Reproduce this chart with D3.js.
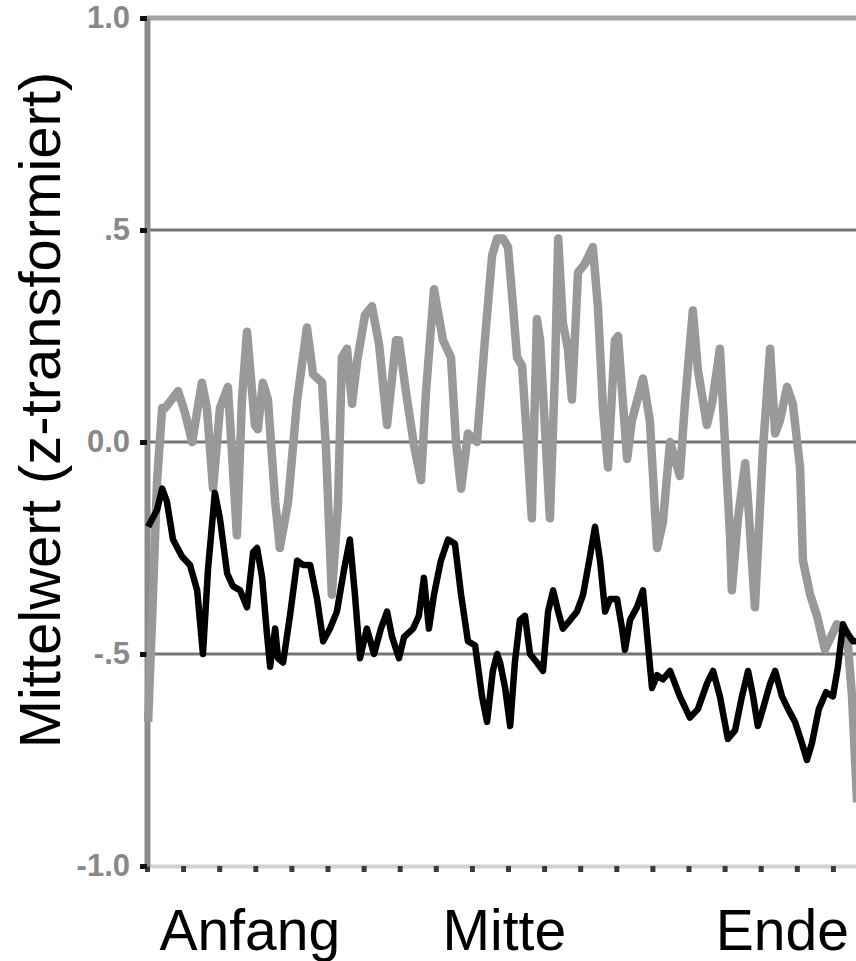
<!DOCTYPE html>
<html>
<head>
<meta charset="utf-8">
<script src="https://cdn.jsdelivr.net/npm/d3@7"></script>
<style>
  html, body { margin: 0; padding: 0; background: #fff; }
  svg { display: block; }
</style>
</head>
<body>
<script>
// set dimensions
var width = 856;
var height = 961;

// data (x in tick units along the excerpt, y = z-transformed mean)
var grayX = [0.03, 0.14, 0.28, 0.42, 0.50, 0.86, 1.05, 1.25, 1.52, 1.66, 1.83, 2.02, 2.24, 2.35, 2.49, 2.63, 2.77, 2.99, 3.07, 3.21,
    3.35, 3.55, 3.68, 3.91, 4.16, 4.43, 4.60, 4.85, 4.96, 5.12, 5.29, 5.40, 5.54, 5.68, 5.82, 6.04, 6.23, 6.43, 6.65, 6.90,
    6.98, 7.17, 7.40, 7.59, 7.73, 7.95, 8.20, 8.42, 8.56, 8.70, 8.89, 9.14, 9.36, 9.56, 9.70, 9.86, 10.00, 10.14, 10.25, 10.39,
    10.53, 10.66, 10.80, 10.89, 11.02, 11.16, 11.30, 11.39, 11.52, 11.66, 11.77, 11.94, 12.13, 12.35, 12.49, 12.63, 12.77, 12.96, 13.05, 13.16,
    13.30, 13.43, 13.74, 13.93, 14.13, 14.29, 14.49, 14.76, 14.90, 15.12, 15.26, 15.51, 15.65, 15.87, 16.01, 16.15, 16.20, 16.37, 16.57, 16.65,
    16.84, 17.06, 17.26, 17.40, 17.53, 17.73, 17.89, 18.09, 18.17, 18.37, 18.56, 18.78, 19.11, 19.39, 19.53, 19.67];
var grayY = [-0.66, -0.42, -0.09, 0.08, 0.08, 0.12, 0.07, 0.00, 0.14, 0.08, -0.11, 0.08, 0.13, -0.02, -0.22, 0.10, 0.26, 0.04, 0.03, 0.14,
    0.10, -0.14, -0.25, -0.14, 0.10, 0.27, 0.16, 0.14, -0.02, -0.36, -0.15, 0.20, 0.22, 0.09, 0.19, 0.30, 0.32, 0.23, 0.04, 0.24,
    0.24, 0.12, -0.01, -0.09, 0.12, 0.36, 0.24, 0.20, 0.00, -0.11, 0.02, 0.00, 0.24, 0.44, 0.48, 0.48, 0.46, 0.32, 0.20, 0.18,
    0.00, -0.18, 0.29, 0.24, 0.04, -0.18, 0.16, 0.48, 0.28, 0.22, 0.10, 0.40, 0.42, 0.46, 0.32, 0.08, -0.06, 0.24, 0.25, 0.12,
    -0.04, 0.05, 0.15, 0.05, -0.25, -0.19, 0.00, -0.08, 0.09, 0.31, 0.17, 0.04, 0.09, 0.22, 0.00, -0.22, -0.35, -0.18, -0.05, -0.14,
    -0.39, -0.02, 0.22, 0.02, 0.05, 0.13, 0.09, -0.06, -0.28, -0.36, -0.41, -0.49, -0.43, -0.45, -0.60, -0.85];

var blackX = [0.03, 0.28, 0.42, 0.55, 0.72, 0.97, 1.19, 1.39, 1.55, 1.69, 1.88, 2.02, 2.22, 2.38, 2.58, 2.77, 2.94, 3.05, 3.19, 3.32,
    3.41, 3.55, 3.63, 3.77, 3.96, 4.16, 4.32, 4.52, 4.71, 4.88, 5.07, 5.26, 5.46, 5.62, 5.76, 5.90, 6.09, 6.29, 6.48, 6.65,
    6.79, 6.98, 7.12, 7.37, 7.53, 7.67, 7.81, 7.95, 8.14, 8.34, 8.53, 8.70, 8.89, 9.09, 9.28, 9.42, 9.58, 9.70, 9.78, 9.92,
    10.06, 10.19, 10.33, 10.47, 10.61, 10.80, 10.97, 11.11, 11.25, 11.39, 11.52, 11.72, 11.91, 12.08, 12.27, 12.41, 12.55, 12.69, 12.83, 13.02,
    13.16, 13.24, 13.38, 13.57, 13.74, 13.88, 13.99, 14.13, 14.29, 14.49, 14.76, 15.04, 15.26, 15.51, 15.68, 15.87, 16.09, 16.29, 16.48, 16.65,
    16.79, 16.92, 17.06, 17.26, 17.40, 17.59, 17.76, 17.95, 18.14, 18.28, 18.42, 18.61, 18.81, 19.00, 19.14, 19.28, 19.39, 19.56, 19.67];
var blackY = [-0.20, -0.16, -0.11, -0.14, -0.23, -0.27, -0.29, -0.35, -0.50, -0.30, -0.12, -0.18, -0.31, -0.34, -0.35, -0.39, -0.26, -0.25, -0.32, -0.45,
    -0.53, -0.44, -0.51, -0.52, -0.41, -0.28, -0.29, -0.29, -0.37, -0.47, -0.44, -0.40, -0.30, -0.23, -0.36, -0.51, -0.44, -0.50, -0.44, -0.40,
    -0.46, -0.51, -0.46, -0.44, -0.41, -0.32, -0.44, -0.36, -0.28, -0.23, -0.24, -0.36, -0.47, -0.48, -0.60, -0.66, -0.54, -0.50, -0.52, -0.58,
    -0.67, -0.52, -0.42, -0.41, -0.50, -0.52, -0.54, -0.40, -0.35, -0.40, -0.44, -0.42, -0.40, -0.36, -0.27, -0.20, -0.28, -0.40, -0.37, -0.37,
    -0.44, -0.49, -0.42, -0.39, -0.35, -0.48, -0.58, -0.55, -0.56, -0.54, -0.60, -0.65, -0.63, -0.57, -0.54, -0.60, -0.70, -0.68, -0.60, -0.54,
    -0.60, -0.67, -0.63, -0.57, -0.54, -0.60, -0.63, -0.66, -0.71, -0.75, -0.71, -0.63, -0.59, -0.60, -0.53, -0.43, -0.45, -0.47, -0.47];

// tick labels
var yTicks = [1, 0.5, 0, -0.5, -1];
var yTickLabels = ["1.0", ".5", "0.0", "-.5", "-1.0"];
var gridValues = [0.5, 0, -0.5];
var xTicks = d3.range(0, 21);

// phase labels under the x axis
var phases = ["Anfang", "Mitte", "Ende"];
var phasePos = [2.85, 9.9, 17.6];

var yTitle = "Mittelwert (z-transformiert)";

// create SVG
var svg = d3.select("body")
    .append("svg")
    .attr("width", width)
    .attr("height", height);

// scales
var xScale = d3.scaleLinear()
    .domain([0, 20])
    .range([147, 869]);

var yScale = d3.scaleLinear()
    .domain([-1, 1])
    .range([866, 18]);

// top line at 1.0 (lighter)
svg.append("line")
    .attr("x1", 147)
    .attr("x2", width)
    .attr("y1", yScale(1))
    .attr("y2", yScale(1))
    .attr("stroke", "#a3a3a3")
    .attr("stroke-width", 5);

// grid lines
svg.selectAll(".grid")
    .data(gridValues)
    .enter()
    .append("line")
    .attr("class", "grid")
    .attr("x1", 147)
    .attr("x2", width)
    .attr("y1", d => yScale(d))
    .attr("y2", d => yScale(d))
    .attr("stroke", "#767676")
    .attr("stroke-width", 3);

// x axis: light line with square ticks
var xAxis = d3.axisBottom(xScale)
    .tickValues(xTicks)
    .tickSize(6)
    .tickSizeOuter(0)
    .tickFormat("");

var gx = svg.append("g")
    .attr("transform", `translate(0, ${yScale(-1)})`)
    .call(xAxis);

gx.select(".domain")
    .attr("stroke", "#d2d2d2")
    .attr("stroke-width", 4);

gx.selectAll(".tick line")
    .attr("stroke", "#3a3a3a")
    .attr("stroke-width", 5);

// y axis
var yAxis = d3.axisLeft(yScale)
    .tickValues(yTicks)
    .tickSize(7)
    .tickSizeOuter(0)
    .tickPadding(10)
    .tickFormat((d, i) => yTickLabels[i]);

var gy = svg.append("g")
    .attr("transform", "translate(147, 0)")
    .call(yAxis);

gy.select(".domain")
    .attr("stroke", "#8c8c8c")
    .attr("stroke-width", 6);

gy.selectAll(".tick line")
    .attr("stroke", "#111")
    .attr("stroke-width", 5);

gy.selectAll(".tick text")
    .attr("fill", "#888")
    .attr("font-family", "'Liberation Sans', Arial, sans-serif")
    .attr("font-weight", "bold")
    .attr("font-size", "31px");

// lines
var line = d3.line()
    .x(d => xScale(d[0]))
    .y(d => yScale(d[1]));

var grayData = grayX.map((x, i) => [x, grayY[i]]);
var blackData = blackX.map((x, i) => [x, blackY[i]]);

svg.append("path")
    .datum(grayData)
    .attr("d", line)
    .attr("fill", "none")
    .attr("stroke", "#999")
    .attr("stroke-width", 8.5)
    .attr("stroke-linejoin", "round");

svg.append("path")
    .datum(blackData)
    .attr("d", line)
    .attr("fill", "none")
    .attr("stroke", "#000")
    .attr("stroke-width", 6.5)
    .attr("stroke-linejoin", "round");

// phase labels
svg.selectAll(".phase")
    .data(phases)
    .enter()
    .append("text")
    .attr("class", "phase")
    .attr("x", (d, i) => xScale(phasePos[i]))
    .attr("y", 950)
    .attr("text-anchor", "middle")
    .attr("font-family", "'Liberation Sans', Arial, sans-serif")
    .attr("font-size", "57px")
    .attr("fill", "#000")
    .text(d => d);

// y title
svg.append("text")
    .attr("transform", "translate(60, 410) rotate(-90)")
    .attr("text-anchor", "middle")
    .attr("font-family", "'Liberation Sans', Arial, sans-serif")
    .attr("font-size", "58px")
    .attr("fill", "#000")
    .text(yTitle);
</script>
</body>
</html>
